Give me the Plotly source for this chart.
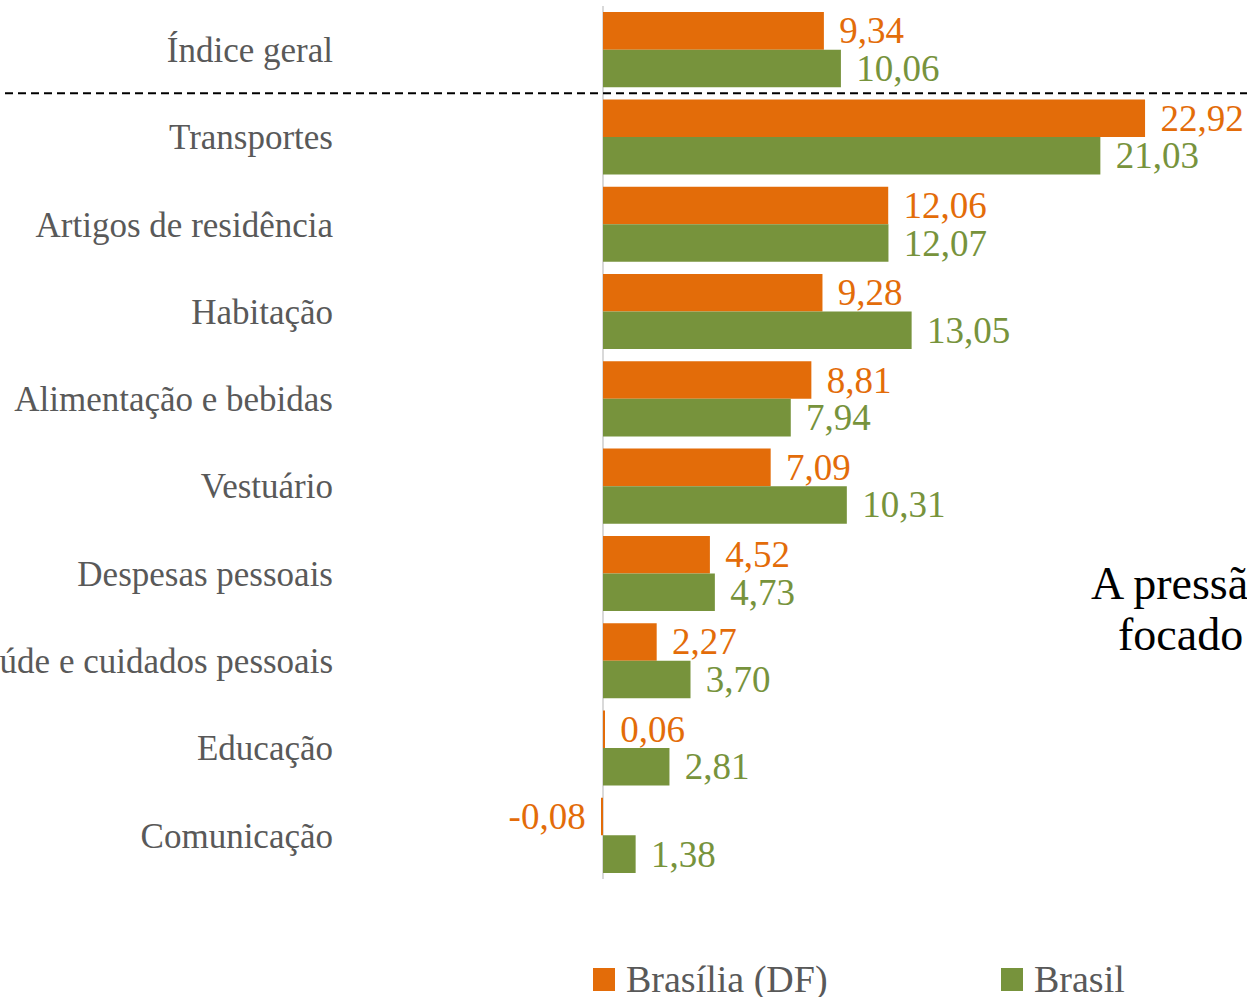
#!/usr/bin/env python3
import plotly.graph_objects as go

CATEGORIES = [
    "Índice geral",
    "Transportes",
    "Artigos de residência",
    "Habitação",
    "Alimentação e bebidas",
    "Vestuário",
    "Despesas pessoais",
    "Saúde e cuidados pessoais",
    "Educação",
    "Comunicação",
]
SERIES_NAMES = ["Brasília (DF)", "Brasil"]
BRASILIA = [9.34, 22.92, 12.06, 9.28, 8.81, 7.09, 4.52, 2.27, 0.06, -0.08]
BRASIL = [10.06, 21.03, 12.07, 13.05, 7.94, 10.31, 4.73, 3.70, 2.81, 1.38]
SIDE_TEXT = ["A pressão", "focado"]

COLORS = ["#E36C09", "#77933C"]
FONT = "Liberation Serif"
GRAY = "#595959"

W, H = 1247, 997
M_L, M_R, M_T, M_B = 340, 0, 6, 118
PLOT_W = W - M_L - M_R
PLOT_H = H - M_T - M_B


def px_x(x):
    return (x - M_L) / PLOT_W


def px_y(y):
    return (H - M_B - y) / PLOT_H


def fmt(v):
    s = f"{v:.2f}".replace(".", ",")
    # keep a little air between bar end and label
    return f"\u00a0\u200a{s}" if v >= 0 else f"{s}\u200a\u00a0"


fig = go.Figure()
for name, vals, color in zip(SERIES_NAMES, [BRASILIA, BRASIL], COLORS):
    fig.add_trace(
        go.Bar(
            y=CATEGORIES,
            x=vals,
            name=name,
            orientation="h",
            marker={"color": color, "line": {"width": 0}},
            text=[fmt(v) for v in vals],
            textposition="outside",
            textfont={"family": FONT, "size": 37, "color": color},
            constraintext="none",
            cliponaxis=False,
            showlegend=False,
        )
    )

# dashed separator under the headline index
fig.add_shape(
    type="line", xref="paper", yref="paper",
    x0=px_x(5), x1=px_x(W), y0=0.9, y1=0.9,
    line={"color": "#000000", "width": 2, "dash": "8px,5px"},
)

# hand-made legend with large squares
legend_x = [593, 1001]
for name, color, lx in zip(SERIES_NAMES, COLORS, legend_x):
    fig.add_shape(
        type="rect", xref="paper", yref="paper",
        x0=px_x(lx), x1=px_x(lx + 22), y0=px_y(968), y1=px_y(991),
        fillcolor=color, line={"width": 0},
    )
    fig.add_annotation(
        x=px_x(lx + 31), y=px_y(979), xref="paper", yref="paper",
        text=name, showarrow=False, xanchor="left", yanchor="middle",
        font={"family": FONT, "size": 38, "color": GRAY},
    )

for txt, tx, ty in zip(SIDE_TEXT, [1089, 1116], [583, 634]):
    fig.add_annotation(
        x=px_x(tx), y=px_y(ty), xref="paper", yref="paper",
        text=txt, showarrow=False, xanchor="left", yanchor="middle",
        font={"family": FONT, "size": 46, "color": "#000000"},
    )

fig.update_layout(
    template="none",
    width=W,
    height=H,
    margin={"l": M_L, "r": M_R, "t": M_T, "b": M_B},
    barmode="group",
    bargap=0.14,
    bargroupgap=0,
    paper_bgcolor="white",
    plot_bgcolor="white",
    showlegend=False,
    xaxis={
        "range": [(M_L - 603) / 23.65, (W - 603) / 23.65],
        "showgrid": False,
        "showticklabels": False,
        "ticks": "",
        "showline": False,
        "zeroline": True,
        "zerolinecolor": "#D9D9D9",
        "zerolinewidth": 2,
    },
    yaxis={
        "autorange": "reversed",
        "showgrid": False,
        "showline": False,
        "zeroline": False,
        "ticks": "",
        "automargin": False,
        "ticklabelstandoff": 6,
        "tickfont": {"family": FONT, "size": 35, "color": GRAY},
    },
)

# the page's default body margin would push the 1247x997 figure off-screen
fig.write_html(
    "out.html",
    config={"displayModeBar": False},
    post_script="document.body.style.margin='0';document.body.style.overflow='hidden';",
)
